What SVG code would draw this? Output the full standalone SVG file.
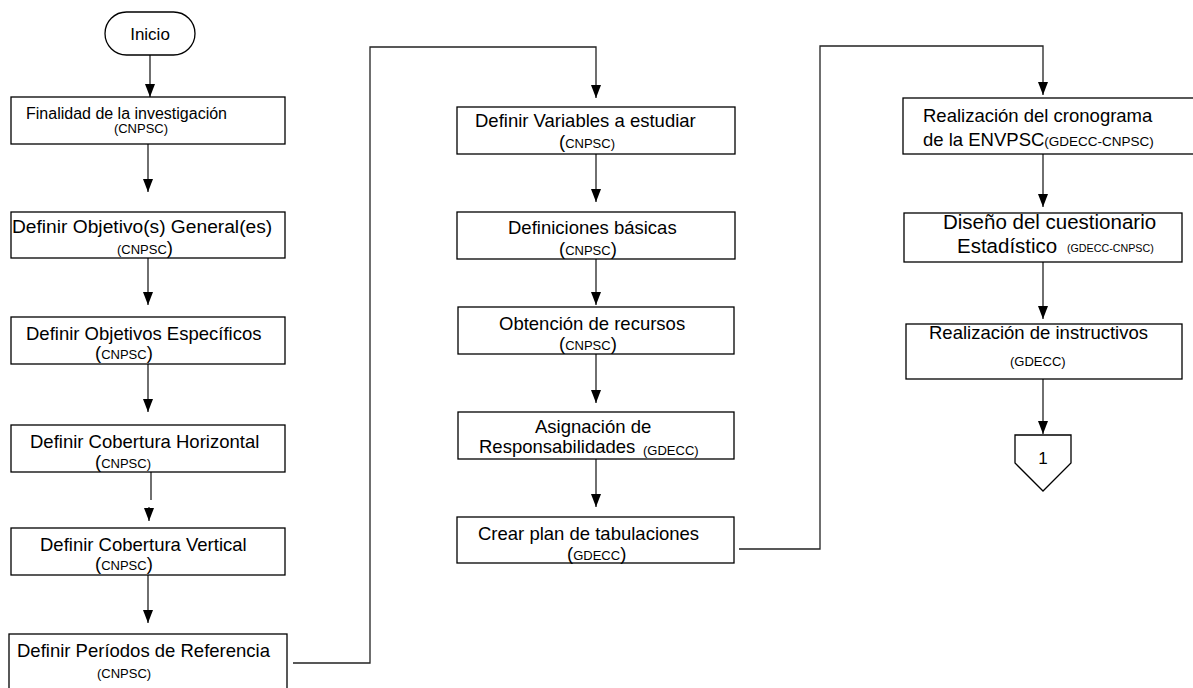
<svg xmlns="http://www.w3.org/2000/svg" width="1193" height="688" viewBox="0 0 1193 688">
<style>
.box{fill:#fff;stroke:#000;stroke-width:1.3}
.t{font-family:"Liberation Sans",Arial,sans-serif;font-size:18.5px;fill:#000}
.s{font-family:"Liberation Sans",Arial,sans-serif;font-size:13px;fill:#000}
.c{fill:none;stroke:#222;stroke-width:1.3}
</style>
<defs>
<marker id="ah" viewBox="0 0 13 10" refX="13" refY="5" markerWidth="13" markerHeight="10" markerUnits="userSpaceOnUse" orient="auto">
<path d="M0,0 L13,5 L0,10 z" fill="#000"/>
</marker>
</defs>
<rect width="1193" height="688" fill="#fff"/>
<g id="connectors">
<line class="c" x1="150" y1="55" x2="150" y2="97" marker-end="url(#ah)"/>
<line class="c" x1="148" y1="144" x2="148" y2="192" marker-end="url(#ah)"/>
<line class="c" x1="148" y1="258" x2="148" y2="305" marker-end="url(#ah)"/>
<line class="c" x1="148" y1="364" x2="148" y2="412" marker-end="url(#ah)"/>
<line class="c" x1="151" y1="466" x2="151" y2="500" stroke="#666"/>
<line class="c" x1="149" y1="507" x2="149" y2="521" marker-end="url(#ah)"/>
<line class="c" x1="148" y1="575" x2="148" y2="623" marker-end="url(#ah)"/>
<polyline class="c" points="293,663 370,663 370,47 596,47 596,98" marker-end="url(#ah)"/>
<line class="c" x1="596" y1="154" x2="596" y2="202" marker-end="url(#ah)"/>
<line class="c" x1="596" y1="259" x2="596" y2="305" marker-end="url(#ah)"/>
<line class="c" x1="596" y1="354" x2="596" y2="403" marker-end="url(#ah)"/>
<line class="c" x1="596" y1="459" x2="596" y2="507" marker-end="url(#ah)"/>
<polyline class="c" points="739,549 820,549 820,46 1043,46 1043,95" marker-end="url(#ah)"/>
<line class="c" x1="1043" y1="154" x2="1043" y2="207" marker-end="url(#ah)"/>
<line class="c" x1="1043" y1="262" x2="1043" y2="319" marker-end="url(#ah)"/>
<line class="c" x1="1043" y1="379" x2="1043" y2="434" marker-end="url(#ah)"/>
</g>
<g id="inicio">
<rect class="box" x="105" y="12" width="90" height="43" rx="21.5"/>
<text class="t" x="150" y="40" text-anchor="middle" style="font-size:17px">Inicio</text>
</g>
<g id="n1">
<rect class="box" x="11" y="97" width="274" height="47"/>
<text class="t" x="26" y="119" style="font-size:16px">Finalidad de la investigación</text>
<text class="s" x="141" y="133" text-anchor="middle">(CNPSC)</text>
</g>
<g id="n2">
<rect class="box" x="11" y="212" width="274" height="46"/>
<text class="t" x="12" y="233" style="font-size:19.2px">Definir Objetivo(s) General(es)</text>
<text class="s" x="117" y="254">(CNPSC<tspan class="t">)</tspan></text>
</g>
<g id="n3">
<rect class="box" x="11" y="317" width="274" height="47"/>
<text class="t" x="26" y="340">Definir Objetivos Específicos</text>
<text class="t" x="95" y="359">(<tspan class="s">CNPSC</tspan>)</text>
</g>
<g id="n4">
<rect class="box" x="11" y="425" width="274" height="47"/>
<text class="t" x="30" y="448">Definir Cobertura Horizontal</text>
<text class="t" x="95" y="468">(<tspan class="s">CNPSC)</tspan></text>
</g>
<g id="n5">
<rect class="box" x="11" y="528" width="274" height="47"/>
<text class="t" x="40" y="551">Definir Cobertura Vertical</text>
<text class="t" x="95" y="570">(<tspan class="s">CNPSC</tspan>)</text>
</g>
<g id="n6">
<rect class="box" x="9" y="634" width="278" height="70"/>
<text class="t" x="17" y="657">Definir Períodos de Referencia</text>
<text class="s" x="97" y="678">(CNPSC)</text>
</g>
<g id="n7">
<rect class="box" x="457" y="107" width="278" height="47"/>
<text class="t" x="475" y="127">Definir Variables a estudiar</text>
<text class="t" x="559" y="148">(<tspan class="s">CNPSC)</tspan></text>
</g>
<g id="n8">
<rect class="box" x="457" y="212" width="278" height="47"/>
<text class="t" x="508" y="234">Definiciones básicas</text>
<text class="t" x="559" y="255">(<tspan class="s">CNPSC</tspan>)</text>
</g>
<g id="n9">
<rect class="box" x="458" y="307" width="276" height="47"/>
<text class="t" x="499" y="330">Obtención de recursos</text>
<text class="t" x="559" y="350">(<tspan class="s">CNPSC</tspan>)</text>
</g>
<g id="n10">
<rect class="box" x="458" y="412" width="276" height="47"/>
<text class="t" x="535" y="433">Asignación de</text>
<text class="t" x="479" y="453">Responsabilidades</text>
<text class="s" x="643" y="455">(GDECC)</text>
</g>
<g id="n11">
<rect class="box" x="457" y="517" width="277" height="46"/>
<text class="t" x="478" y="540">Crear plan de tabulaciones</text>
<text class="t" x="567" y="560">(<tspan class="s">GDECC</tspan>)</text>
</g>
<g id="n12">
<rect class="box" x="903" y="98" width="300" height="56"/>
<text class="t" x="923" y="122">Realización del cronograma</text>
<text class="t" x="923" y="146">de la ENVPSC<tspan class="s" style="font-size:13.5px">(GDECC-CNPSC)</tspan></text>
</g>
<g id="n13">
<rect class="box" x="904" y="213" width="278" height="49"/>
<text class="t" x="943" y="229" style="font-size:20.5px">Diseño del cuestionario</text>
<text class="t" x="957" y="253" style="font-size:20.5px">Estadístico</text>
<text class="s" x="1067" y="252" style="font-size:10.7px">(GDECC-CNPSC)</text>
</g>
<g id="n14">
<rect class="box" x="906" y="324" width="276" height="55"/>
<text class="t" x="929" y="339">Realización de instructivos</text>
<text class="s" x="1010" y="366">(GDECC)</text>
</g>
<g id="conn1">
<polygon class="box" points="1015,435 1071,435 1071,463 1043,491 1015,463"/>
<text class="t" x="1043" y="464" text-anchor="middle" style="font-size:17px">1</text>
</g>
</svg>
